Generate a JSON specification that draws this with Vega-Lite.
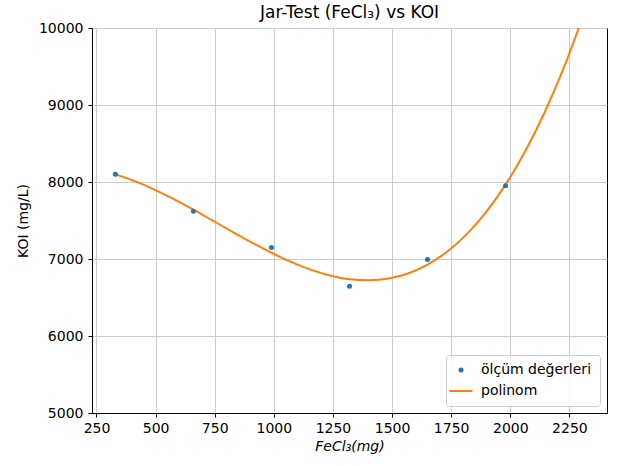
{
  "$schema": "https://vega.github.io/schema/vega-lite/v6.json",
  "width": 515,
  "height": 385,
  "autosize": {"type": "none"},
  "padding": {"left": 92, "top": 28, "right": 16, "bottom": 53},
  "background": "white",
  "config": {
    "font": "DejaVu Sans",
    "view": {"stroke": "black", "strokeWidth": 1},
    "axis": {
      "domainColor": "black",
      "tickColor": "black",
      "tickSize": 4,
      "labelColor": "black",
      "labelFontSize": 14,
      "labelPadding": 4,
      "grid": true,
      "gridColor": "#cccccc",
      "gridWidth": 1,
      "titleColor": "black",
      "titleFontSize": 14,
      "titleFontWeight": "normal"
    }
  },
  "title": {
    "text": "Jar-Test (FeCl₃) vs KOI",
    "fontSize": 17,
    "fontWeight": "normal",
    "color": "black",
    "anchor": "middle",
    "frame": "group",
    "offset": -1
  },
  "datasets": {
    "meas": [
      {"x": 330, "y": 8100, "series": "ölçüm değerleri"},
      {"x": 660, "y": 7620, "series": "ölçüm değerleri"},
      {"x": 990, "y": 7150, "series": "ölçüm değerleri"},
      {"x": 1320, "y": 6645, "series": "ölçüm değerleri"},
      {"x": 1650, "y": 6995, "series": "ölçüm değerleri"},
      {"x": 1980, "y": 7950, "series": "ölçüm değerleri"}
    ],
    "fit": [
      {"x": 330, "y": 8099, "series": "polinom"},
      {"x": 412.5, "y": 8011, "series": "polinom"},
      {"x": 495, "y": 7902, "series": "polinom"},
      {"x": 577.5, "y": 7777, "series": "polinom"},
      {"x": 660, "y": 7640, "series": "polinom"},
      {"x": 742.5, "y": 7497, "series": "polinom"},
      {"x": 825, "y": 7353, "series": "polinom"},
      {"x": 907.5, "y": 7213, "series": "polinom"},
      {"x": 990, "y": 7081, "series": "polinom"},
      {"x": 1072.5, "y": 6962, "series": "polinom"},
      {"x": 1155, "y": 6862, "series": "polinom"},
      {"x": 1237.5, "y": 6786, "series": "polinom"},
      {"x": 1320, "y": 6737, "series": "polinom"},
      {"x": 1402.5, "y": 6723, "series": "polinom"},
      {"x": 1485, "y": 6746, "series": "polinom"},
      {"x": 1567.5, "y": 6812, "series": "polinom"},
      {"x": 1650, "y": 6927, "series": "polinom"},
      {"x": 1732.5, "y": 7095, "series": "polinom"},
      {"x": 1815, "y": 7320, "series": "polinom"},
      {"x": 1897.5, "y": 7609, "series": "polinom"},
      {"x": 1980, "y": 7966, "series": "polinom"},
      {"x": 2062.5, "y": 8395, "series": "polinom"},
      {"x": 2145, "y": 8903, "series": "polinom"},
      {"x": 2227.5, "y": 9493, "series": "polinom"},
      {"x": 2310, "y": 10171, "series": "polinom"}
    ]
  },
  "encoding": {
    "x": {
      "field": "x",
      "type": "quantitative",
      "scale": {"domain": [231, 2409], "nice": false, "zero": false},
      "axis": {
        "values": [250, 500, 750, 1000, 1250, 1500, 1750, 2000, 2250],
        "format": "d",
        "title": "FeCl₃(mg)",
        "titleFontStyle": "italic",
        "titlePadding": 4
      }
    },
    "y": {
      "field": "y",
      "type": "quantitative",
      "scale": {"domain": [5000, 10000], "nice": false, "zero": false},
      "axis": {
        "values": [5000, 6000, 7000, 8000, 9000, 10000],
        "format": "d",
        "title": "KOI (mg/L)",
        "labelPadding": 5,
        "titlePadding": 8
      }
    },
    "color": {
      "field": "series",
      "type": "nominal",
      "scale": {"domain": ["ölçüm değerleri", "polinom"], "range": ["#1f77b4", "#ff7f0e"]},
      "legend": {
        "title": null,
        "orient": "bottom-right",
        "offset": 7,
        "fillColor": "rgba(255,255,255,0.85)",
        "strokeColor": "#cccccc",
        "cornerRadius": 3,
        "padding": 8,
        "labelFontSize": 14,
        "labelColor": "black",
        "labelOffset": 13,
        "rowPadding": 7,
        "symbolSize": 529,
        "encode": {
          "symbols": {
            "update": {
              "shape": {"signal": "datum.value === 'polinom' ? 'stroke' : 'circle'"},
              "size": {"signal": "datum.value === 'polinom' ? 529 : 25"},
              "strokeWidth": {"signal": "datum.value === 'polinom' ? 2 : 0"},
              "stroke": {"scale": "color", "field": "value"},
              "fill": {"scale": "color", "field": "value"},
              "opacity": {"value": 1},
              "fillOpacity": {"value": 1}
            }
          }
        }
      }
    }
  },
  "layer": [
    {
      "data": {"name": "fit"},
      "mark": {"type": "line", "clip": true, "strokeWidth": 2, "interpolate": "monotone"}
    },
    {
      "data": {"name": "meas"},
      "mark": {"type": "point", "filled": true, "size": 25, "opacity": 1}
    }
  ]
}
